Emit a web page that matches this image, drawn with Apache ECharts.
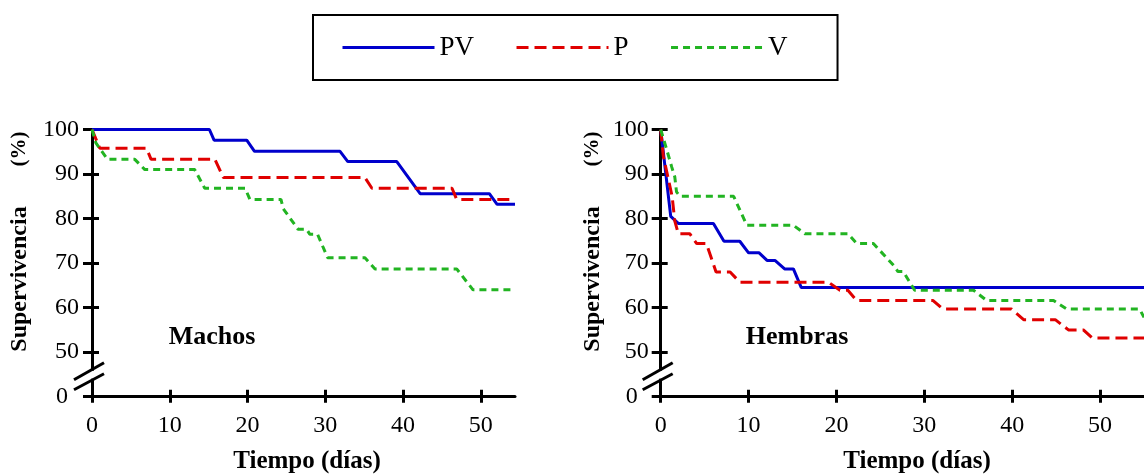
<!DOCTYPE html>
<html><head><meta charset="utf-8">
<script src="https://cdn.jsdelivr.net/npm/echarts@6/dist/echarts.min.js"></script>
<style>html,body{margin:0;padding:0;background:#fff}#c{width:1144px;height:475px}</style>
</head><body><div id="c"></div>
<script>
// ---------- DATA ----------
const seriesNames = ['PV', 'P', 'V'];
const panelTitles = ['Machos', 'Hembras'];
const xTitle = 'Tiempo (días)';
const yTitle = 'Supervivencia';
const yUnit = '(%)';
const xTicks = [0, 10, 20, 30, 40, 50];
const yTickValues = [40, 50, 60, 70, 80, 90, 100];
const yTickLabels = ['0', '50', '60', '70', '80', '90', '100'];

// Machos
const machosPV_t = [0, 15.1, 15.7, 19.9, 20.9, 31.9, 32.9, 39.2, 42.2, 51.1, 52.1, 54.4];
const machosPV_v = [100, 100, 97.6, 97.6, 95.1, 95.1, 92.8, 92.8, 85.6, 85.6, 83.2, 83.2];
const machosP_t = [0, 1.0, 7.0, 7.6, 15.8, 16.9, 35.1, 36.0, 46.3, 46.9, 54.4];
const machosP_v = [100, 95.8, 95.8, 93.3, 93.3, 89.2, 89.2, 86.8, 86.8, 84.3, 84.3];
const machosV_t = [0, 0.5, 1.1, 2.0, 5.5, 6.8, 13.2, 14.5, 19.7, 20.3, 24.3, 24.6, 26.5, 27.6, 28.0, 29.0, 30.3, 35.1, 36.4, 46.9, 49.0, 54.4];
const machosV_v = [100, 97, 95.5, 93.3, 93.3, 91.0, 91.0, 86.8, 86.8, 84.3, 84.3, 82.2, 77.6, 77.6, 76.5, 76.5, 71.2, 71.2, 68.7, 68.7, 64.0, 64.0];

// Hembras
const hembrasPV_t = [0, 1.14, 2.0, 6.0, 7.2, 9.0, 10.0, 11.2, 12.1, 13.0, 14.1, 15.1, 16.0, 55];
const hembrasPV_v = [100, 80.5, 78.9, 78.9, 74.9, 74.9, 72.3, 72.3, 70.6, 70.6, 68.7, 68.7, 64.5, 64.5];
const hembrasP_t = [0, 0.3, 1.3, 1.6, 2.0, 3.3, 4.1, 5.2, 6.3, 7.9, 9.0, 19.1, 20.4, 21.3, 22.3, 31.0, 32.1, 39.9, 41.3, 44.9, 46.4, 48.1, 49.1, 55];
const hembrasP_v = [100, 94, 85, 79.5, 76.6, 76.6, 74.4, 74.4, 68.0, 68.0, 65.7, 65.7, 63.9, 63.9, 61.6, 61.6, 59.7, 59.7, 57.3, 57.3, 55.0, 55.0, 53.2, 53.2];
const hembrasV_t = [0, 0.7, 1.25, 1.6, 1.8, 2.2, 8.3, 9.8, 15.1, 16.4, 21.3, 22.3, 24.2, 26.5, 27.0, 27.6, 28.9, 35.6, 37.1, 44.7, 46.2, 54.5, 55];
const hembrasV_v = [100, 95.4, 91.6, 89.4, 86.0, 85.0, 85.0, 78.5, 78.5, 76.6, 76.6, 74.4, 74.4, 69.5, 68.1, 68.1, 63.9, 63.9, 61.6, 61.6, 59.7, 59.7, 57.8];

// ---------- STYLE ----------
const FONT = 'Liberation Serif';
const colors = {PV: '#0000CC', P: '#E00000', V: '#22B422'};
const dashes = {PV: 'solid', P: [12, 6], V: [7, 5]};

const pairs = (t, v) => t.map((x, i) => [x, v[i]]);
const yLabelFmt = v => {
  const i = yTickValues.indexOf(v);
  const s = i >= 0 ? yTickLabels[i] : '';
  return v === yTickValues[0] ? '{z|' + s + '}' : s;
};

function xAxes(gridIndex, max) {
  return [
    {type: 'value', gridIndex, position: 'bottom', min: 0, max,
     axisLine: {show: true, onZero: false, lineStyle: {color: '#000', width: 3}},
     axisTick: {show: true, inside: false, length: 6, customValues: xTicks, lineStyle: {color: '#000', width: 3}},
     axisLabel: {show: true, customValues: xTicks, margin: 17, color: '#000', fontFamily: FONT, fontSize: 24},
     splitLine: {show: false}},
    {type: 'value', gridIndex, position: 'bottom', min: 0, max,
     axisLine: {show: false},
     axisTick: {show: true, inside: true, length: 7, customValues: xTicks, lineStyle: {color: '#000', width: 3}},
     axisLabel: {show: false}, splitLine: {show: false}}
  ];
}
function yAxes(gridIndex, margin) {
  return [
    {type: 'value', gridIndex, position: 'left', min: 40, max: 100,
     axisLine: {show: true, onZero: false, lineStyle: {color: '#000', width: 3}},
     axisTick: {show: true, inside: false, length: 9, customValues: yTickValues, lineStyle: {color: '#000', width: 3}},
     axisLabel: {show: true, customValues: yTickValues, margin, color: '#000', fontFamily: FONT, fontSize: 24,
       formatter: yLabelFmt, rich: {z: {fontFamily: FONT, fontSize: 24, color: '#000', padding: [0, 11, 0, 0]}}},
     splitLine: {show: false}},
    {type: 'value', gridIndex, position: 'left', min: 40, max: 100,
     axisLine: {show: false},
     axisTick: {show: true, inside: true, length: 7, customValues: yTickValues, lineStyle: {color: '#000', width: 3}},
     axisLabel: {show: false}, splitLine: {show: false}}
  ];
}
function line(name, xi, yi, t, v) {
  return {name, type: 'line', xAxisIndex: xi, yAxisIndex: yi, data: pairs(t, v),
    symbol: 'none', showSymbol: false, animation: false, silent: true,
    lineStyle: {color: colors[name], width: 3, type: dashes[name]},
    itemStyle: {color: colors[name]}};
}
function txt(text, x, y, size, opts) {
  return Object.assign({type: 'text', x, y, z: 50,
    style: {text, fill: '#000', font: 'bold ' + size + 'px "' + FONT + '"', textAlign: 'center', textVerticalAlign: 'middle'}}, opts || {});
}

const chart = echarts.init(document.getElementById('c'), null, {renderer: 'canvas'});
chart.setOption({
  animation: false,
  backgroundColor: '#fff',
  textStyle: {fontFamily: FONT},
  legend: {
    data: seriesNames, left: 313, top: 15, orient: 'horizontal',
    itemWidth: 92, itemHeight: 14, itemGap: 41,
    itemStyle: {opacity: 0},
    lineStyle: {width: 3},
    padding: [19, 50, 19, 28], borderColor: '#000', borderWidth: 2,
    textStyle: {fontSize: 27, fontFamily: FONT, color: '#000'},
    selectedMode: false
  },
  grid: [
    {left: 92, top: 129.5, width: 423, height: 267.2, outerBoundsMode: 'none'},
    {left: 660.7, top: 129.5, width: 483.3, height: 267.2, outerBoundsMode: 'none'}
  ],
  xAxis: [...xAxes(0, 54.4), ...xAxes(1, 55)],
  yAxis: [...yAxes(0, 13), ...yAxes(1, 12)],
  series: [
    line('PV', 0, 0, machosPV_t, machosPV_v),
    line('P', 0, 0, machosP_t, machosP_v),
    line('V', 0, 0, machosV_t, machosV_v),
    line('PV', 2, 2, hembrasPV_t, hembrasPV_v),
    line('P', 2, 2, hembrasP_t, hembrasP_v),
    line('V', 2, 2, hembrasV_t, hembrasV_v)
  ]
});

function breakMark(p) {
  const px = p[0], py = p[1];
  return [
    {type: 'rect', z: 100, shape: {x: px - 3, y: py - 26, width: 6, height: 8}, style: {fill: '#fff'}},
    {type: 'line', z: 101, shape: {x1: px - 18, y1: py - 17, x2: px + 12, y2: py - 34}, style: {stroke: '#000', lineWidth: 3}},
    {type: 'line', z: 101, shape: {x1: px - 18, y1: py - 7, x2: px + 12, y2: py - 23}, style: {stroke: '#000', lineWidth: 3}}
  ];
}
const o0 = chart.convertToPixel({xAxisIndex: 0, yAxisIndex: 0}, [0, 40]);
const o1 = chart.convertToPixel({xAxisIndex: 2, yAxisIndex: 2}, [0, 40]);
chart.setOption({
  graphic: [
    ...breakMark(o0), ...breakMark(o1),
    txt(panelTitles[0], 212, 337, 26),
    txt(panelTitles[1], 797, 337, 26),
    txt(xTitle, 307, 462, 25),
    txt(xTitle, 917, 462, 25),
    txt(yTitle, 20, 279, 24, {rotation: Math.PI / 2}),
    txt(yUnit, 20, 149, 21, {rotation: Math.PI / 2}),
    txt(yTitle, 593, 279, 24, {rotation: Math.PI / 2}),
    txt(yUnit, 593, 149, 21, {rotation: Math.PI / 2})
  ]
});
</script>
</body></html>
